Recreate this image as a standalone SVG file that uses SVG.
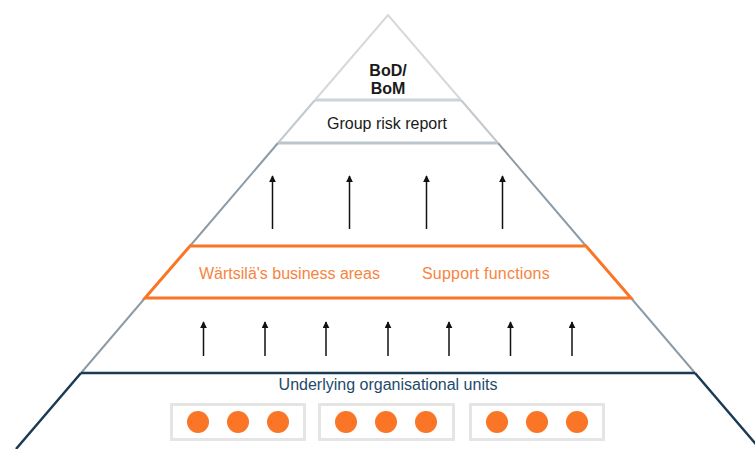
<svg xmlns="http://www.w3.org/2000/svg" width="755" height="449" viewBox="0 0 755 449">
<style>
text{font-family:"Liberation Sans",Arial,sans-serif;font-size:16px}
.lbl{fill:#1a1a1a}
.org{fill:#f7843e}
.navyt{fill:#1f4a6a}
.arr{stroke:#111;stroke-width:1.5;fill:none}
.box{fill:none;stroke:#e5e5e5;stroke-width:3}
.dot{fill:#fa7525}
</style>
<defs>
<marker id="ah" viewBox="0 0 10 10" refX="9" refY="5" markerWidth="7" markerHeight="7" markerUnits="userSpaceOnUse" orient="auto">
<path d="M0,0 L10,5 L0,10 Z" fill="#111"/>
</marker>
</defs>
<g id="pyramid-edges" fill="none" stroke-linecap="butt">
<path d="M315,100 L388,15 L461,100" stroke="#d6d9dc" stroke-width="2"/>
<path d="M315,100 L278,143 M461,100 L498,143" stroke="#c2cad0" stroke-width="2"/>
<path d="M278,143 L190,246 M498,143 L586,246" stroke="#8e9ca7" stroke-width="2"/>
<path d="M145,298 L81,373 M631,298 L695,373" stroke="#8e9ca7" stroke-width="2"/>
<path d="M81,373 L16,449 M695,373 L760,449" stroke="#1b3a53" stroke-width="2.5"/>
</g>
<g id="bod">
<line x1="315" y1="100" x2="461" y2="100" stroke="#cdd3d8" stroke-width="3"/>
<text x="388" y="76" text-anchor="middle" class="lbl" font-weight="bold">BoD/</text>
<text x="388" y="94" text-anchor="middle" class="lbl" font-weight="bold">BoM</text>
</g>
<g id="group-risk-report">
<line x1="278" y1="143" x2="498" y2="143" stroke="#bcc5cc" stroke-width="3"/>
<text x="387" y="129" text-anchor="middle" class="lbl">Group risk report</text>
</g>
<g id="business-band">
<path d="M190,246 L586,246 L631,298 L145,298 Z" fill="none" stroke="#fa7525" stroke-width="3" stroke-linejoin="miter"/>
<text x="199" y="279" class="org">Wärtsilä's business areas</text>
<text x="422" y="279" class="org" letter-spacing="0.2">Support functions</text>
</g>
<g id="units">
<line x1="81" y1="373" x2="695" y2="373" stroke="#1b3a53" stroke-width="2.5"/>
<text x="388" y="390" text-anchor="middle" class="navyt">Underlying organisational units</text>
</g>
<g id="unit-box-1">
<rect class="box" x="171.5" y="404.5" width="133" height="35"/>
<circle class="dot" cx="198" cy="422" r="11"/>
<circle class="dot" cx="238" cy="422" r="11"/>
<circle class="dot" cx="278" cy="422" r="11"/>
</g>
<g id="unit-box-2">
<rect class="box" x="319.5" y="404.5" width="134" height="35"/>
<circle class="dot" cx="346" cy="422" r="11"/>
<circle class="dot" cx="386" cy="422" r="11"/>
<circle class="dot" cx="426" cy="422" r="11"/>
</g>
<g id="unit-box-3">
<rect class="box" x="470.5" y="404.5" width="133" height="35"/>
<circle class="dot" cx="497" cy="422" r="11"/>
<circle class="dot" cx="537" cy="422" r="11"/>
<circle class="dot" cx="577" cy="422" r="11"/>
</g>
<g id="connectors">
<line class="arr" x1="272.5" y1="229" x2="272.5" y2="176" marker-end="url(#ah)"/>
<line class="arr" x1="349.5" y1="229" x2="349.5" y2="176" marker-end="url(#ah)"/>
<line class="arr" x1="426.5" y1="229" x2="426.5" y2="176" marker-end="url(#ah)"/>
<line class="arr" x1="502.5" y1="229" x2="502.5" y2="176" marker-end="url(#ah)"/>
<line class="arr" x1="203.5" y1="356" x2="203.5" y2="322" marker-end="url(#ah)"/>
<line class="arr" x1="265" y1="356" x2="265" y2="322" marker-end="url(#ah)"/>
<line class="arr" x1="326" y1="356" x2="326" y2="322" marker-end="url(#ah)"/>
<line class="arr" x1="388" y1="356" x2="388" y2="322" marker-end="url(#ah)"/>
<line class="arr" x1="449" y1="356" x2="449" y2="322" marker-end="url(#ah)"/>
<line class="arr" x1="510.5" y1="356" x2="510.5" y2="322" marker-end="url(#ah)"/>
<line class="arr" x1="572" y1="356" x2="572" y2="322" marker-end="url(#ah)"/>
</g>
</svg>
